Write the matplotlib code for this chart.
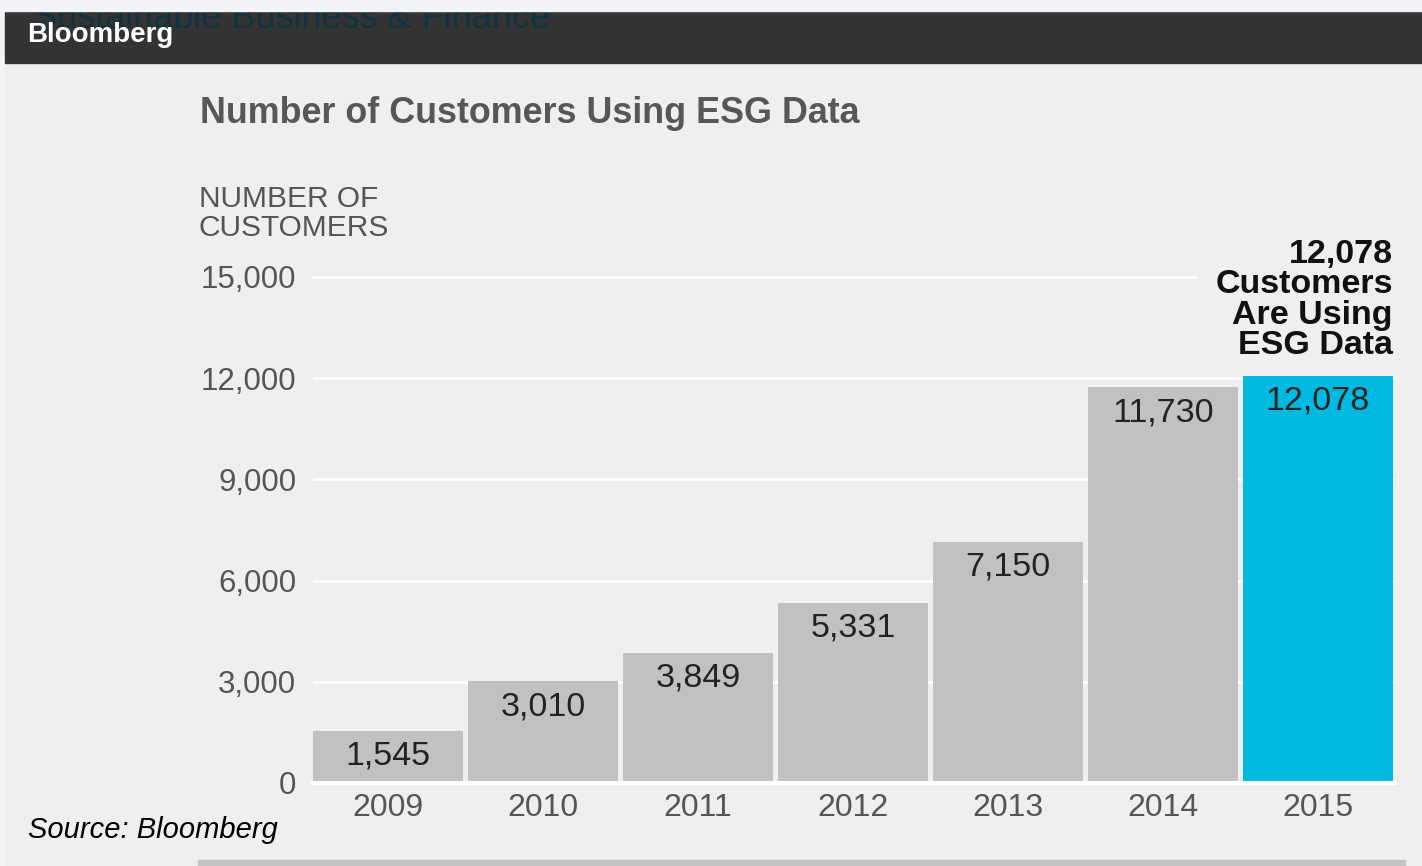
# Bloomberg chart: number of customers using ESG data, 2009-2015
import matplotlib.pyplot as plt
from matplotlib.patches import Rectangle
import numpy as np

years = ['2009', '2010', '2011', '2012', '2013', '2014', '2015']
customers = [1545, 3010, 3849, 5331, 7150, 11730, 12078]
bar_colors = ['#c0c1c3'] * 6 + ['#00b9e1']
yticks = [0, 3000, 6000, 9000, 12000, 15000]

plt.rcParams['font.family'] = ['Liberation Sans', 'DejaVu Sans']

W, H = 1422, 866
fig = plt.figure(figsize=(W / 100, H / 100), dpi=100, facecolor='#f3f4f8')


def fx(px):
    return px / W


def fy(py):
    return 1 - py / H


# page background, header bar and the clipped headline behind it
fig.patches.append(Rectangle((fx(5), 0), 1 - fx(5), fy(63), transform=fig.transFigure,
                             color='#efefef', zorder=-3))
fig.patches.append(Rectangle((fx(5), fy(63)), 1 - fx(5), 52 / H, transform=fig.transFigure,
                             color='#333333', zorder=-3))
fig.text(fx(33), fy(28), 'Sustainable Business & Finance', color='#0f3341',
         fontsize=26, va='baseline', zorder=-2)
fig.patches.append(Rectangle((0, fy(11)), 1, 11 / H, transform=fig.transFigure,
                             color='#f3f4f8', zorder=-1))
fig.patches.append(Rectangle((fx(198), 0), fx(1405 - 198), 6 / H, transform=fig.transFigure,
                             color='#c4c4c4', zorder=-1))
fig.text(fx(27), fy(42), 'Bloomberg', color='white', fontsize=20,
         fontweight='bold', va='baseline')

# titles
fig.text(fx(200), fy(123), 'Number of Customers Using ESG Data', color='#555759',
         fontsize=25.8, fontweight='bold', va='baseline')
fig.text(fx(199), fy(185), 'NUMBER OF\nCUSTOMERS', color='#555555',
         fontsize=21.5, va='top', linespacing=1.05)
fig.text(fx(1393), fy(239), '12,078\nCustomers\nAre Using\nESG Data', color='#111111',
         fontsize=24.5, fontweight='bold', ha='right', va='top', linespacing=0.97)
fig.text(fx(28), fy(830), 'Source: Bloomberg', color='black', fontsize=21,
         style='italic', va='center')

# bar chart
ax = fig.add_axes([fx(313), fy(783), fx(1395 - 313), (783 - 277) / H])
ax.set_facecolor('none')
x = np.arange(len(years))
ax.bar(x, customers, width=0.968, color=bar_colors, zorder=3)
ax.set_xlim(-0.484, 6.497)
ax.set_ylim(0, 15000)

for y in yticks[1:-1]:
    ax.axhline(y, color='white', lw=2, zorder=1)
ax.axhline(15000, xmax=0.815, color='white', lw=2, zorder=1, clip_on=False)
ax.axhline(0, color='white', lw=3, zorder=4, clip_on=False)

for xi, v in zip(x, customers):
    ax.annotate(f'{v:,}', (xi, v), xytext=(0, -7), textcoords='offset points',
                ha='center', va='top', fontsize=24.5, color='#222222', zorder=5)

ax.set_yticks(yticks, labels=[f'{v:,}' for v in yticks])
ax.set_xticks(x, years)
ax.tick_params(axis='y', length=0, pad=12, labelsize=22.5, labelcolor='#555555')
ax.tick_params(axis='x', length=0, pad=7, labelsize=23, labelcolor='#555555')
for s in ax.spines.values():
    s.set_visible(False)

fig.savefig('out.png', dpi=100)
